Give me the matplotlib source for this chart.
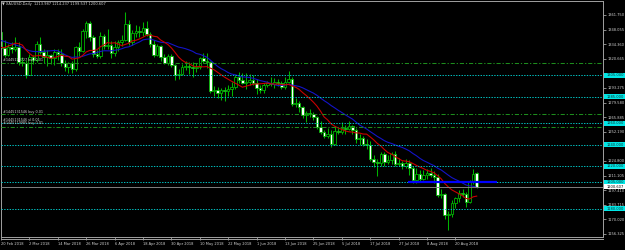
import matplotlib
matplotlib.use("Agg")
import matplotlib.pyplot as plt
import matplotlib.transforms as mtransforms
from matplotlib.patches import Rectangle
from matplotlib.lines import Line2D
import numpy as np
import pandas as pd

# ---------------- data ----------------
header_text = "\u25bc XAUUSD,Daily  1213.987 1214.237 1199.537 1200.607"

date_labels = ["20 Feb 2018", "2 Mar 2018", "14 Mar 2018", "26 Mar 2018", "6 Apr 2018",
               "18 Apr 2018", "30 Apr 2018", "10 May 2018", "22 May 2018", "1 Jun 2018",
               "13 Jun 2018", "25 Jun 2018", "5 Jul 2018", "17 Jul 2018", "27 Jul 2018",
               "8 Aug 2018", "20 Aug 2018"]
date_label_bars = [0, 8, 16, 24, 32, 40, 48, 56, 64, 72, 80, 88, 96, 104, 112, 120, 128]

# closes before the first visible bar (only used by the moving averages)
warmup_close = [1332.5, 1340.0, 1358.2, 1348.3, 1349.9, 1340.7, 1339.9, 1344.9, 1347.8, 1333.1,
                1338.2, 1325.8, 1317.8, 1318.4, 1315.6, 1323.4, 1329.6, 1350.2, 1354.3, 1347.2]

opens = [1346, 1331, 1324, 1332, 1330, 1332, 1318, 1317, 1305, 1322,
         1320, 1335, 1327, 1322, 1324, 1321, 1327, 1325, 1317, 1313,
         1317, 1311, 1332, 1328, 1347, 1354, 1341, 1325, 1323, 1342,
         1333, 1334, 1326, 1332, 1336, 1338, 1353, 1336, 1345, 1347,
         1346, 1350, 1344, 1335, 1324, 1333, 1322, 1317, 1323, 1315,
         1305, 1306, 1313, 1314, 1313, 1312, 1313, 1321, 1319, 1318,
         1290, 1291, 1289, 1291, 1290, 1292, 1294, 1304, 1301, 1298,
         1299, 1301, 1298, 1293, 1291, 1296, 1298, 1297, 1299, 1298,
         1294, 1299, 1302, 1278, 1279, 1275, 1268, 1270, 1269, 1266,
         1257, 1252, 1248, 1250, 1241, 1253, 1252, 1256, 1255, 1258,
         1254, 1245, 1246, 1241, 1240, 1227, 1224, 1223, 1231, 1224,
         1226, 1231, 1222, 1223, 1220, 1223, 1218, 1207, 1213, 1208,
         1212, 1214, 1212, 1210, 1193, 1194, 1174, 1175, 1185, 1190,
         1195, 1194, 1186, 1206, 1213.987]
highs = [1347, 1338, 1335, 1336, 1341, 1336, 1322, 1320, 1325, 1324,
         1337, 1341, 1330, 1329, 1325, 1330, 1330, 1330, 1320, 1318,
         1319, 1333, 1336, 1349, 1356, 1356, 1343, 1329, 1346, 1344,
         1349, 1337, 1337, 1338, 1343, 1365, 1357, 1348, 1352, 1351,
         1355, 1356, 1346, 1338, 1335, 1334, 1325, 1325, 1325, 1316,
         1311, 1316, 1319, 1318, 1318, 1317, 1322, 1326, 1326, 1319,
         1295, 1294, 1293, 1294, 1296, 1299, 1305, 1308, 1307, 1307,
         1306, 1305, 1302, 1296, 1298, 1300, 1304, 1303, 1302, 1300,
         1304, 1309, 1304, 1284, 1281, 1276, 1272, 1274, 1271, 1267,
         1262, 1254, 1256, 1254, 1258, 1256, 1261, 1259, 1262, 1259,
         1256, 1250, 1248, 1245, 1244, 1230, 1227, 1233, 1233, 1230,
         1233, 1234, 1228, 1225, 1227, 1226, 1220, 1218, 1216, 1216,
         1217, 1218, 1215, 1213, 1199, 1195, 1178, 1188, 1191, 1198,
         1199, 1196, 1207, 1217, 1214.237]
lows = [1327, 1322, 1323, 1326, 1328, 1315, 1314, 1303, 1305, 1316,
        1318, 1325, 1317, 1314, 1316, 1315, 1320, 1314, 1309, 1307,
        1307, 1309, 1323, 1327, 1340, 1337, 1322, 1321, 1321, 1330,
        1330, 1321, 1323, 1328, 1333, 1337, 1334, 1334, 1341, 1341,
        1342, 1342, 1332, 1322, 1323, 1319, 1316, 1315, 1313, 1301,
        1302, 1305, 1310, 1306, 1304, 1308, 1311, 1317, 1312, 1289,
        1286, 1284, 1282, 1281, 1286, 1286, 1292, 1298, 1297, 1292,
        1296, 1296, 1288, 1289, 1289, 1294, 1295, 1293, 1295, 1292,
        1292, 1298, 1276, 1275, 1271, 1265, 1261, 1266, 1263, 1255,
        1250, 1246, 1246, 1238, 1240, 1250, 1250, 1250, 1254, 1250,
        1242, 1240, 1239, 1236, 1225, 1219, 1211, 1220, 1220, 1222,
        1222, 1220, 1220, 1217, 1218, 1212, 1204, 1204, 1205, 1207,
        1208, 1210, 1204, 1191, 1190, 1170, 1160, 1172, 1181, 1186,
        1191, 1182, 1185, 1203, 1199.537]
closes = [1331, 1324, 1332, 1330, 1332, 1318, 1317, 1305, 1322, 1320,
          1335, 1327, 1322, 1324, 1321, 1327, 1325, 1317, 1313, 1317,
          1311, 1332, 1328, 1347, 1354, 1341, 1325, 1323, 1342, 1333,
          1334, 1326, 1332, 1336, 1338, 1353, 1336, 1345, 1347, 1346,
          1350, 1344, 1335, 1324, 1333, 1322, 1317, 1323, 1315, 1305,
          1306, 1313, 1314, 1313, 1312, 1313, 1321, 1319, 1318, 1290,
          1291, 1289, 1291, 1290, 1292, 1294, 1304, 1301, 1298, 1299,
          1301, 1298, 1293, 1291, 1296, 1298, 1297, 1299, 1298, 1294,
          1299, 1302, 1278, 1279, 1275, 1268, 1270, 1269, 1266, 1257,
          1252, 1248, 1250, 1241, 1253, 1252, 1256, 1255, 1258, 1254,
          1245, 1246, 1241, 1240, 1227, 1224, 1223, 1231, 1224, 1226,
          1231, 1222, 1223, 1220, 1223, 1218, 1207, 1213, 1208, 1212,
          1214, 1212, 1210, 1193, 1194, 1174, 1175, 1185, 1190, 1195,
          1194, 1186, 1206, 1213, 1200.607]

ma_fast_period = 10
ma_slow_period = 20

price_ticks = [1156.325, 1170.020, 1183.715, 1197.410, 1211.105, 1224.800, 1238.495,
               1252.190, 1265.885, 1279.580, 1293.275, 1306.970, 1320.665, 1334.360,
               1348.055, 1361.750]

level_prices = [1305.0, 1285.0, 1260.0, 1240.0, 1220.0, 1205.0, 1180.0]
order_prices = [1317.0, 1268.6, 1256.4]
order_label_texts = ["#1445120727 buy 0.01", "#1445131546 buy 0.01",
                     "#1445131546 sl 0.01", "#1445119985 buy 0.01"]
order_label_prices = [1319.5, 1271.0, 1263.0, 1260.0]

trend_bars = [114.6, 139.7]
trend_price = 1205.0
bid_price = 1200.607

# ---------------- style ----------------
W, H = 625, 250
BG = "black"
GRID_C = "#a0a0a0"
TXT = "#d0d0d0"
CANDLE = "#00b400"
CYAN = "#00c4c4"
ORDER_G = "#1d8c1d"
FS = 2.6

plt.rcParams["font.family"] = ["DejaVu Sans"]

fig = plt.figure(figsize=(W / 100, H / 100), dpi=100, facecolor=BG)
ax = fig.add_axes([0.5 / W, 13 / H, 602.5 / W, 236 / H])
ax.set_facecolor(BG)

n = len(closes)
x = np.arange(n)
o = np.array(opens, float)
h = np.array(highs, float)
l = np.array(lows, float)
c = np.array(closes, float)

# candles
ax.vlines(x, l, h, color=CANDLE, lw=0.75, zorder=2)
up = c >= o
body_bot = np.minimum(o, c)
body_h = np.maximum(np.abs(c - o), 0.5)
ax.bar(x[up], body_h[up], bottom=body_bot[up], width=0.72, color="black",
       edgecolor=CANDLE, linewidth=0.6, zorder=2.2)
ax.bar(x[~up], body_h[~up], bottom=body_bot[~up], width=0.72, color="white",
       edgecolor=CANDLE, linewidth=0.6, zorder=2.2)

# moving averages
all_close = pd.Series(warmup_close + closes, dtype=float)
xm = np.arange(-len(warmup_close), n)
ma_fast = all_close.rolling(ma_fast_period).mean().to_numpy()
ma_slow = all_close.rolling(ma_slow_period).mean().to_numpy()
ax.plot(xm, ma_slow, color="#1414c8", lw=0.8, zorder=3)
ax.plot(xm, ma_fast, color="#c80000", lw=0.8, zorder=3.1)

# horizontal level lines
for p in level_prices:
    ln = ax.axhline(p, color=CYAN, lw=0.7, zorder=4)
    ln.set_dashes((1.4, 1.4))
for p in order_prices:
    ln = ax.axhline(p, color=ORDER_G, lw=0.75, zorder=4)
    ln.set_dashes((4, 1.8, 1.2, 1.8))
ax.axhline(bid_price, color="#808080", lw=0.7, zorder=3.5)
ax.plot(trend_bars, [trend_price, trend_price], color="#0000ff", lw=1.6, zorder=5,
        solid_capstyle="butt")

# order labels
for t, p in zip(order_label_texts, order_label_prices):
    ax.text(0.004, p, t, transform=mtransforms.blended_transform_factory(ax.transAxes, ax.transData),
            fontsize=2.4, color=TXT, va="center", ha="left", zorder=6)

# axes limits
px_per_bar = 3.55
ax.set_xlim((0.5 - 1.0) / px_per_bar, (603 - 1.0) / px_per_bar)
ax.set_ylim(1156.325 + (234 - 237) / 1.0661, 1156.325 + (234 - 1) / 1.0661)

for s in ax.spines.values():
    s.set_color(GRID_C)
    s.set_linewidth(0.7)

# y ticks on right (labels hidden where a highlighted level label covers them)
ax.yaxis.tick_right()
ax.set_yticks(price_ticks)
tick_texts = []
for v in price_ticks:
    covered = any(abs(v - p) < 2.5 for p in level_prices)
    tick_texts.append("" if covered else f"{v:.3f}")
ax.set_yticklabels(tick_texts)
ax.tick_params(axis="y", colors=GRID_C, labelcolor=TXT, labelsize=FS, length=2.2,
               width=0.6, pad=1.0, direction="out")

# x ticks
ax.set_xticks(date_label_bars)
ax.set_xticklabels(date_labels, ha="left")
ax.tick_params(axis="x", colors=GRID_C, labelcolor=TXT, labelsize=FS, length=2.2,
               width=0.6, pad=1.4, direction="out")

# highlighted price labels
tr = mtransforms.blended_transform_factory(ax.transAxes, ax.transData)
x0 = (604 - 0.5) / 602.5
bw = (625 - 604) / 602.5
bh = 5.2 / 1.0661
for p in level_prices:
    ax.add_patch(Rectangle((x0, p - bh / 2), bw, bh, transform=tr, facecolor="#00e6e6",
                           edgecolor="none", clip_on=False, zorder=7))
    ax.text(x0 + 2.5 / 602.5, p, f"{p:.3f}", transform=tr, fontsize=FS, color="#103030",
            va="center", ha="left", clip_on=False, zorder=8)
ax.add_patch(Rectangle((x0, bid_price - bh / 2), bw, bh, transform=tr, facecolor="white",
                       edgecolor="none", clip_on=False, zorder=7))
ax.text(x0 + 2.5 / 602.5, bid_price, f"{bid_price:.3f}", transform=tr, fontsize=FS,
        color="black", va="center", ha="left", clip_on=False, zorder=8)

# header
fig.text(2 / W, 1 - 4.5 / H, header_text, fontsize=FS, color=TXT, va="center", ha="left")

# second bottom border line
fig.add_artist(Line2D([0.5 / W, 603 / W], [1 - 239 / H, 1 - 239 / H], color=GRID_C, lw=0.7))

fig.savefig("out.png", dpi=100, facecolor=BG)
